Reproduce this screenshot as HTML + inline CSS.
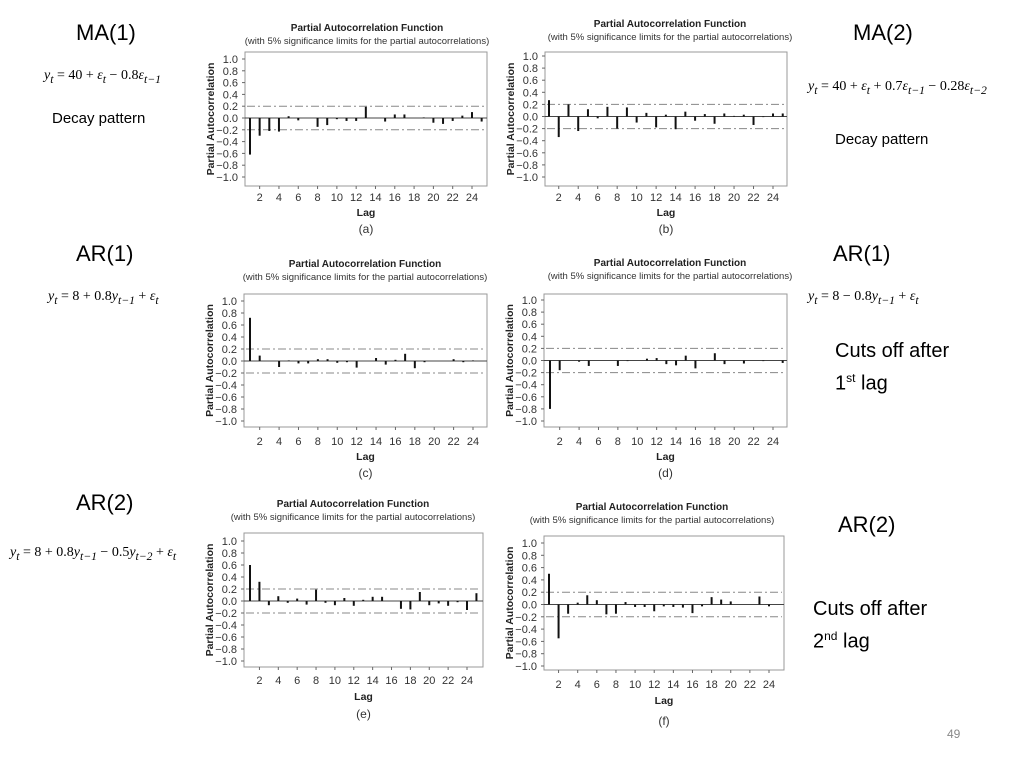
<!DOCTYPE html>
<html><head><meta charset="utf-8">
<style>
body{margin:0;width:1024px;height:768px;background:#fff;overflow:hidden;position:relative;font-family:"Liberation Sans",sans-serif}
.t{position:absolute;white-space:nowrap;color:#000}
.h{font-size:22px}
.eq{font-family:"Liberation Serif",serif;font-size:14px}
.eq i{font-style:italic}
.d{font-size:15px}
.c{font-size:20px;line-height:27px}
svg{position:absolute;left:0;top:0}
</style></head><body>
<div class="t h" style="left:76px;top:20px">MA(1)</div>
<div class="t eq" style="left:44px;top:68px"><i>y<sub>t</sub></i> = 40 + <i>ε<sub>t</sub></i> − 0.8<i>ε<sub>t−1</sub></i></div>
<div class="t d" style="left:52px;top:110px">Decay pattern</div>
<div class="t h" style="left:853px;top:20px">MA(2)</div>
<div class="t eq" style="left:808px;top:79px"><i>y<sub>t</sub></i> = 40 + <i>ε<sub>t</sub></i> + 0.7<i>ε<sub>t−1</sub></i> − 0.28<i>ε<sub>t−2</sub></i></div>
<div class="t d" style="left:835px;top:131px">Decay pattern</div>
<div class="t h" style="left:76px;top:241px">AR(1)</div>
<div class="t eq" style="left:48px;top:289px"><i>y<sub>t</sub></i> = 8 + 0.8<i>y<sub>t−1</sub></i> + <i>ε<sub>t</sub></i></div>
<div class="t h" style="left:833px;top:241px">AR(1)</div>
<div class="t eq" style="left:808px;top:289px"><i>y<sub>t</sub></i> = 8 − 0.8<i>y<sub>t−1</sub></i> + <i>ε<sub>t</sub></i></div>
<div class="t c" style="left:835px;top:338px">Cuts off after<br>1<sup style="font-size:12px">st</sup> lag</div>
<div class="t h" style="left:76px;top:490px">AR(2)</div>
<div class="t eq" style="left:10px;top:545px"><i>y<sub>t</sub></i> = 8 + 0.8<i>y<sub>t−1</sub></i> − 0.5<i>y<sub>t−2</sub></i> + <i>ε<sub>t</sub></i></div>
<div class="t h" style="left:838px;top:512px">AR(2)</div>
<div class="t c" style="left:813px;top:596px">Cuts off after<br>2<sup style="font-size:12px">nd</sup> lag</div>
<div class="t" style="left:947px;top:727px;font-size:12px;color:#888">49</div>
<svg id="s" width="1024" height="768"></svg>
<script>
const lagsA=[-0.62,-0.30,-0.22,-0.23,0.03,-0.04,0,-0.15,-0.12,-0.02,-0.05,-0.05,0.19,0,-0.06,0.06,0.06,0,0.01,-0.08,-0.10,-0.05,0.04,0.10,-0.06];
const lagsB=[0.27,-0.34,0.20,-0.24,0.12,-0.03,0.16,-0.20,0.15,-0.10,0.06,-0.18,0.03,-0.21,0.08,-0.07,0.04,-0.12,0.05,0.01,0.03,-0.14,-0.01,0.05,0.05];
const lagsC=[0.72,0.09,0,-0.10,0.01,-0.04,-0.04,0.03,0.03,-0.03,-0.02,-0.11,0,0.05,-0.06,0.02,0.12,-0.12,-0.02,0,0,0.03,-0.02,0.01,0];
const lagsD=[-0.80,-0.16,0,-0.02,-0.09,0,0,-0.09,-0.01,0,0.03,0.04,-0.06,-0.08,0.08,-0.13,0,0.12,-0.06,0,-0.05,0,-0.01,0,-0.04];
const lagsE=[0.60,0.32,-0.07,0.08,-0.03,0.04,-0.06,0.19,-0.03,-0.07,0.05,-0.08,0.02,0.07,0.07,0,-0.13,-0.14,0.15,-0.07,-0.04,-0.08,-0.02,-0.15,0.13];
const lagsF=[0.50,-0.55,-0.15,0.03,0.15,0.07,-0.16,-0.15,0.04,-0.04,-0.04,-0.11,-0.03,-0.04,-0.05,-0.14,-0.03,0.12,0.08,0.05,0,0,0.13,-0.03];
const yTicks=[1.0,0.8,0.6,0.4,0.2,0,-0.2,-0.4,-0.6,-0.8,-1.0];
const xTicks=[2,4,6,8,10,12,14,16,18,20,22,24];
const sigLimit=0.2;
const charts=[
 {id:'a',data:lagsA,L:245,R:487,T:52,B:186,yp:59,yn:177,x1:250,x24:472,tc:367,ty:31,tk:201,lg:216,cap:233},
 {id:'b',data:lagsB,L:545,R:787,T:52,B:186,yp:56,yn:177,x1:549,x24:773,tc:670,ty:27,tk:201,lg:216,cap:233},
 {id:'c',data:lagsC,L:244,R:487,T:294,B:427,yp:301,yn:421,x1:250,x24:473,tc:365,ty:267,tk:445,lg:460,cap:477},
 {id:'d',data:lagsD,L:544,R:787,T:294,B:427,yp:300,yn:421,x1:550,x24:773,tc:670,ty:266,tk:445,lg:460,cap:477},
 {id:'e',data:lagsE,L:244,R:483,T:533,B:667,yp:541,yn:661,x1:250,x24:467,tc:353,ty:507,tk:684,lg:700,cap:718},
 {id:'f',data:lagsF,L:544,R:784,T:536,B:670,yp:543,yn:666,x1:549,x24:769,tc:652,ty:510,tk:688,lg:704,cap:725}
];
const S=document.getElementById('s');const NS='http://www.w3.org/2000/svg';
function mk(tag,a,txt){const e=document.createElementNS(NS,tag);for(const k in a)e.setAttribute(k,a[k]);if(txt!==undefined)e.textContent=txt;S.appendChild(e);return e;}
charts.forEach(c=>{
 const ys=v=>c.yp+(1-v)/2*(c.yn-c.yp);
 const xs=l=>c.x1+(l-1)*(c.x24-c.x1)/23;
 let e=mk('text',{x:c.tc,y:c.ty,'text-anchor':'middle','font-size':10,'font-weight':'bold',fill:'#222'},'Partial Autocorrelation Function');
 
 
 e=mk('text',{x:c.tc,y:c.ty+13,'text-anchor':'middle','font-size':9.5,fill:'#333'},'(with 5% significance limits for the partial autocorrelations)');
 
 
 e=mk('rect',{x:c.L,y:c.T,width:c.R-c.L,height:c.B-c.T,fill:'none',stroke:'#999','stroke-width':1});
 
 
 yTicks.forEach(v=>{
  e=mk('text',{x:c.L-7,y:ys(v)+4,'text-anchor':'end','font-size':11,fill:'#333'},(v<0?'−':'')+Math.abs(v).toFixed(1));
  
  
  mk('line',{x1:c.L-3,x2:c.L,y1:ys(v),y2:ys(v),stroke:'#666'});
 });
 xTicks.forEach(l=>{
  e=mk('text',{x:xs(l),y:c.tk,'text-anchor':'middle','font-size':11,fill:'#333'},l);
  
  
  mk('line',{x1:xs(l),x2:xs(l),y1:c.B,y2:c.B+3,stroke:'#666'});
 });
 e=mk('text',{x:(c.L+c.R)/2,y:c.lg,'text-anchor':'middle','font-size':10.5,'font-weight':'bold',fill:'#222'},'Lag');
 
 
 const ym=(c.T+c.B)/2;
 e=mk('text',{x:0,y:0,'text-anchor':'middle','font-size':10.5,'font-weight':'bold',fill:'#222',transform:`translate(${c.L-31},${ym}) rotate(-90)`},'Partial Autocorrelation');
 
 
 e=mk('text',{x:(c.L+c.R)/2,y:c.cap,'text-anchor':'middle','font-size':12,fill:'#333'},'('+c.id+')');
 
 
 mk('line',{x1:c.L,x2:c.R,y1:ys(0),y2:ys(0),stroke:'#444','stroke-width':1});
 [sigLimit,-sigLimit].forEach(v=>{
  e=mk('line',{x1:c.L+2,x2:c.R-2,y1:ys(v),y2:ys(v),stroke:'#888','stroke-width':1,'stroke-dasharray':'8 3 2 3'});
  
  
 });
 c.data.forEach((v,i)=>{
  e=mk('line',{x1:xs(i+1),x2:xs(i+1),y1:ys(0),y2:ys(v),stroke:'#111','stroke-width':2});
  
  
 });
});
</script>
</body></html>
